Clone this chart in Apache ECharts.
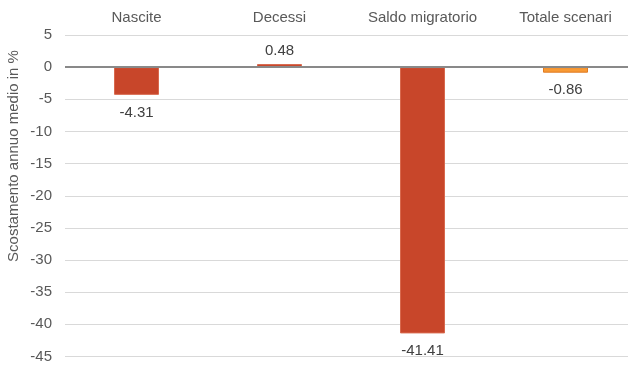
<!DOCTYPE html>
<html>
<head>
<meta charset="utf-8">
<script src="https://cdn.jsdelivr.net/npm/echarts@6/dist/echarts.min.js"></script>
<style>
  html, body { margin: 0; padding: 0; background: #ffffff; }
  #chart { width: 628px; height: 365px; }
</style>
</head>
<body>
<div id="chart"></div>
<script>
// Scostamento annuo medio per componente demografica
const categories = ['Nascite', 'Decessi', 'Saldo migratorio', 'Totale scenari'];
const values = [-4.31, 0.48, -41.41, -0.86];
const barColors = ['#C8462A', '#C8462A', '#C8462A', '#F89A35'];
const borderColors = ['#D8694E', '#D8694E', '#D8694E', '#E07A22'];
const yTicks = { min: -45, max: 5, interval: 5 };
const yTitle = 'Scostamento annuo medio in %';

const chart = echarts.init(document.getElementById('chart'));
const font = 'Liberation Sans, Arial, sans-serif';

chart.setOption({
  animation: false,
  textStyle: { fontFamily: font },
  grid: { left: 65, top: 35, width: 572, bottom: 8.5, containLabel: false, outerBoundsMode: 'none' },
  xAxis: {
    type: 'category',
    data: categories,
    position: 'top',
    axisLine: { show: false },
    axisTick: { show: false },
    axisLabel: { color: '#595959', fontSize: 15, margin: 10, fontFamily: font }
  },
  yAxis: {
    type: 'value',
    min: yTicks.min,
    max: yTicks.max,
    interval: yTicks.interval,
    axisLine: { show: false },
    axisTick: { show: false },
    axisLabel: { color: '#595959', fontSize: 15, margin: 13, fontFamily: font },
    splitLine: { lineStyle: { color: '#D9D9D9', width: 1 } }
  },
  graphic: [{
    type: 'text',
    rotation: Math.PI / 2,
    x: 14,
    y: 156,
    style: {
      text: yTitle,
      fill: '#595959',
      font: '15px ' + font,
      textAlign: 'center',
      textVerticalAlign: 'middle'
    }
  }],
  series: [{
    type: 'bar',
    barWidth: 45,
    data: values.map((v, i) => ({
      value: v,
      itemStyle: { color: barColors[i], borderColor: borderColors[i], borderWidth: 1 },
      // negative bars carry their value label beneath the bar end
      label: v < 0 ? { position: 'bottom', distance: 10 } : { position: 'top', distance: 6 }
    })),
    label: {
      show: true,
      color: '#404040',
      fontSize: 15,
      fontFamily: font,
      formatter: p => p.value.toFixed(2)
    },
    markLine: {
      silent: true,
      symbol: 'none',
      label: { show: false },
      lineStyle: { color: '#898989', width: 2, type: 'solid' },
      data: [{ yAxis: 0 }]
    }
  }]
});
</script>
</body>
</html>
